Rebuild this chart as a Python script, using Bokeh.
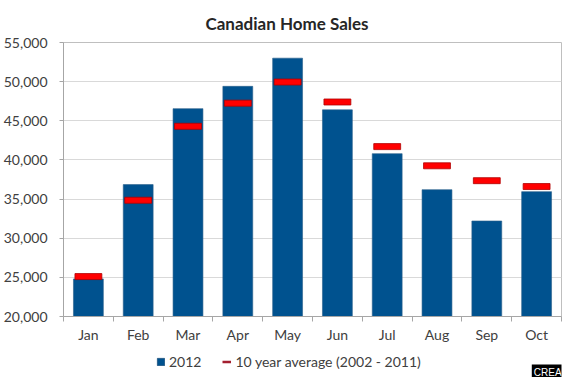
from bokeh.plotting import figure
from bokeh.layouts import column
from bokeh.models import (ColumnDataSource, FixedTicker, NumeralTickFormatter,
                          Legend, LegendItem, Label, Range1d)
from bokeh.embed import file_html
from bokeh.resources import INLINE

months = ["Jan", "Feb", "Mar", "Apr", "May", "Jun", "Jul", "Aug", "Sep", "Oct"]
sales_2012 = [24800, 36850, 46550, 49400, 53000, 46400, 40800, 36200, 32200, 35950]
avg_10yr = [25100, 34850, 44300, 47250, 49950, 47400, 41700, 39250, 37350, 36600]
y_ticks = [20000, 25000, 30000, 35000, 40000, 45000, 50000, 55000]

FONT = "Lato"
TXT = "#404040"
BAR = "#00528F"
BAR_EDGE = "#2A5F8A"
AVG_LEG = "#A31F2F"

xc = [i + 0.5 for i in range(len(months))]
src = ColumnDataSource(dict(x=xc, month=months, sales=sales_2012, avg=avg_10yr))

p = figure(width=570, height=345, output_backend="svg", toolbar_location=None,
           x_range=Range1d(0, len(months)), y_range=Range1d(20000, 55000),
           min_border_left=61, min_border_right=9, min_border_top=42,
           min_border_bottom=29)

p.title.text = "Canadian Home Sales"
p.title.align = "left"
p.title.offset = 142
p.title.standoff = 18
p.title.text_font = FONT
p.title.text_font_size = "17px"
p.title.text_font_style = "bold"
p.title.text_color = "#262626"

p.vbar(x="x", top="sales", bottom=20000, width=0.6, source=src,
       fill_color=BAR, line_color=BAR_EDGE, line_width=0.6)
p.rect(x="x", y="avg", width=0.54, height=6, height_units="screen", source=src,
       fill_color="#FF0000", line_color="#B00000", line_width=0.8)

# axes
p.xaxis.ticker = FixedTicker(ticks=xc, minor_ticks=list(range(len(months) + 1)))
p.xaxis.major_label_overrides = {x: m for x, m in zip(xc, months)}
p.xaxis.major_tick_line_color = None
p.xaxis.major_tick_out = 5
p.xaxis.major_tick_in = 0
p.xaxis.minor_tick_out = 5
p.xaxis.minor_tick_in = 0
p.xaxis.minor_tick_line_color = "#A6A6A6"
p.xaxis.major_label_standoff = 4

p.yaxis.ticker = FixedTicker(ticks=y_ticks)
p.yaxis.formatter = NumeralTickFormatter(format="0,0")
p.yaxis.major_tick_out = 4
p.yaxis.major_tick_in = 0
p.yaxis.minor_tick_line_color = None
p.yaxis.major_label_standoff = 12
p.yaxis.major_tick_line_color = "#A6A6A6"

for ax in (p.xaxis, p.yaxis):
    ax.axis_line_color = "#A6A6A6"
    ax.major_label_text_font = FONT
    ax.major_label_text_font_size = "14px"
    ax.major_label_text_color = TXT

p.xgrid.grid_line_color = None
p.ygrid.grid_line_color = "#D9D9D9"
p.ygrid.ticker = FixedTicker(ticks=y_ticks)
p.outline_line_color = "#BFBFBF"
p.background_fill_color = "white"
p.border_fill_color = "white"

# legend strip (proxy glyphs placed outside the visible range)
q = figure(width=570, height=32, output_backend="svg", toolbar_location=None,
           x_range=Range1d(0, 570), y_range=Range1d(0, 32),
           x_axis_location=None, y_axis_location=None,
           min_border=0, min_border_left=0, min_border_right=0,
           min_border_top=0, min_border_bottom=0)
q.grid.visible = False
q.outline_line_color = None
leg_bar = q.vbar(x=[-100], top=[-100], bottom=-101, width=1,
                 fill_color=BAR, line_color=BAR_EDGE)
leg_line = q.line(x=[-100, -99], y=[-100, -100], line_color=AVG_LEG, line_width=2.5)

legend = Legend(items=[LegendItem(label="2012", renderers=[leg_bar]),
                       LegendItem(label="10 year average (2002 - 2011)", renderers=[leg_line])],
                orientation="horizontal", location=(93, 7),
                label_text_font=FONT, label_text_font_size="14px", label_text_color=TXT,
                glyph_width=9, glyph_height=9, label_standoff=4, spacing=21,
                padding=0, margin=0, label_height=14, border_line_color=None,
                background_fill_alpha=0)
q.add_layout(legend, "center")

crea = Label(x=536, y=-2, text="CREA", text_font="Liberation Sans",
             text_font_size="10px", text_color="white",
             background_fill_color="black", text_baseline="bottom", padding=2)
q.add_layout(crea)

layout = column(p, q, spacing=0)
open("out.html", "w").write(file_html(layout, INLINE))
